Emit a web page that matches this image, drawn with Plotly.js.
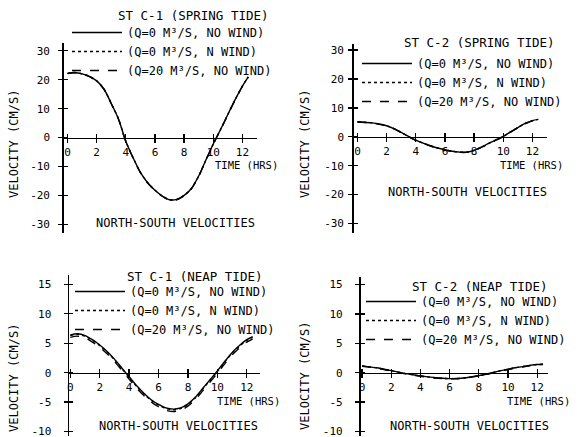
<!DOCTYPE html>
<html>
<head>
<meta charset="utf-8">
<script src="https://cdn.plot.ly/plotly-3.0.1.min.js"></script>
<style>html,body{margin:0;padding:0;background:#fff}#chart{width:579px;height:437px}</style>
</head>
<body>
<div id="chart"></div>
<script>
// ---------------- DATA ----------------
const timeHrs = [0,0.5,1,1.5,2,2.5,3,3.5,4,4.5,5,5.5,6,6.5,7,7.5,8,8.5,9,9.5,10,10.5,11,11.5,12,12.4];

// ST C-1 spring tide (cm/s)
const springC1_q0    = [22.2,22.5,22.0,21.2,19.6,16.8,11.8,6.4,-1.3,-7.0,-12.0,-15.6,-18.2,-20.2,-21.5,-21.4,-20.0,-17.6,-13.3,-7.7,-2.2,2.8,8.0,13.1,17.8,21.0];
const springC1_nWind = [22.2,22.5,22.0,21.2,19.6,16.8,11.8,6.4,-1.3,-7.0,-12.0,-15.6,-18.2,-20.2,-21.5,-21.4,-20.0,-17.6,-13.3,-7.7,-2.2,2.8,8.0,13.1,17.8,21.0];
const springC1_q20   = [22.1,22.4,21.9,21.1,19.5,16.7,11.7,6.3,-1.4,-7.1,-12.1,-15.7,-18.3,-20.3,-21.6,-21.5,-20.1,-17.7,-13.4,-7.8,-2.3,2.7,7.9,13.0,17.7,20.9];

// ST C-2 spring tide (cm/s)
const springC2_q0    = [5.2,5.0,4.8,4.4,3.8,2.8,1.5,0.1,-1.2,-2.2,-3.1,-3.9,-4.5,-5.0,-5.3,-5.3,-4.7,-3.6,-2.3,-1.1,0.1,1.7,3.2,4.6,5.6,6.0];
const springC2_nWind = [5.2,5.0,4.8,4.4,3.8,2.8,1.5,0.1,-1.2,-2.2,-3.1,-3.9,-4.5,-5.0,-5.3,-5.3,-4.7,-3.6,-2.3,-1.1,0.1,1.7,3.2,4.6,5.6,6.0];
const springC2_q20   = [5.1,4.9,4.7,4.3,3.7,2.7,1.4,0.0,-1.3,-2.3,-3.2,-4.0,-4.6,-5.1,-5.4,-5.4,-4.8,-3.7,-2.4,-1.2,0.0,1.6,3.1,4.5,5.5,5.9];

// ST C-1 neap tide (cm/s)
const neapC1_q0    = [6.4,6.6,6.3,5.6,4.7,3.6,2.3,0.8,-0.7,-2.2,-3.5,-4.6,-5.4,-6.0,-6.2,-6.0,-5.3,-4.2,-2.7,-1.2,0.3,1.9,3.4,4.6,5.6,6.1];
const neapC1_nWind = [6.3,6.5,6.2,5.5,4.6,3.5,2.2,0.7,-0.8,-2.3,-3.6,-4.7,-5.5,-6.1,-6.3,-6.1,-5.4,-4.3,-2.8,-1.3,0.2,1.8,3.3,4.5,5.5,6.0];
const neapC1_q20   = [6.0,6.2,5.9,5.2,4.3,3.2,1.9,0.4,-1.1,-2.6,-3.9,-5.0,-5.8,-6.4,-6.6,-6.4,-5.7,-4.6,-3.1,-1.6,-0.1,1.5,3.0,4.2,5.2,5.7];

// ST C-2 neap tide (cm/s)
const neapC2_q0    = [1.15,1.0,0.85,0.6,0.35,0.1,-0.15,-0.35,-0.55,-0.7,-0.85,-0.95,-1.0,-0.98,-0.9,-0.7,-0.5,-0.25,0.05,0.35,0.6,0.85,1.05,1.25,1.4,1.45];
const neapC2_nWind = [1.15,1.0,0.85,0.6,0.35,0.1,-0.15,-0.35,-0.55,-0.7,-0.85,-0.95,-1.0,-0.98,-0.9,-0.7,-0.5,-0.25,0.05,0.35,0.6,0.85,1.05,1.25,1.4,1.45];
const neapC2_q20   = [1.1,0.95,0.8,0.55,0.3,0.05,-0.2,-0.4,-0.6,-0.75,-0.9,-1.0,-1.05,-1.03,-0.95,-0.75,-0.55,-0.3,0.0,0.3,0.55,0.8,1.0,1.2,1.35,1.4];

const seriesNames = ['(Q=0 M³/S, NO WIND)', '(Q=0 M³/S, N WIND)', '(Q=20 M³/S, NO WIND)'];
const panelTitles = ['ST C-1 (SPRING TIDE)', 'ST C-2 (SPRING TIDE)', 'ST C-1 (NEAP TIDE)', 'ST C-2 (NEAP TIDE)'];
const timeTicks = [0,2,4,6,8,10,12];
const timeTickText = ['0','2','4','6','8','10','12'];
const springVelTicks = [-30,-20,-10,0,10,20,30];
const springVelTickText = ['-30','-20','-10','0','10','20','30'];
const neapVelTicks = [-10,-5,0,5,10,15];
const neapVelTickText = ['-10','-5','0','5','10','15'];
const xTitle = 'TIME (HRS)';
const yTitle = 'VELOCITY (CM/S)';
const subTitle = 'NORTH-SOUTH VELOCITIES';

// ---------------- LAYOUT ----------------
const W = 579, H = 437;
const px = v => v / W;
const py = v => 1 - v / H;
const FONT = '"DejaVu Sans Mono", monospace';
const dashes = ['solid', 'dot', 'dash'];

const panels = [
  {series:[springC1_q0,springC1_nWind,springC1_q20], yt:springVelTicks, ytt:springVelTickText,
   xdom:[64,257], ydom:[43,233], xr:[-0.24,13.0], yr:[-33.0,32.7], leg:[67,18], ttl:[193,15], tm:[246,165], ns:[175,223], vel:[14,144], so:6},
  {series:[springC2_q0,springC2_nWind,springC2_q20], yt:springVelTicks, ytt:springVelTickText,
   xdom:[354,547], ydom:[44,233], xr:[-0.24,13.0], yr:[-33.3,32.1], leg:[357,49], ttl:[480,42], tm:[531,165], ns:[467,192], vel:[305,144], so:2},
  {series:[neapC1_q0,neapC1_nWind,neapC1_q20], yt:neapVelTicks, ytt:neapVelTickText,
   xdom:[69.3,260], ydom:[275,436], xr:[-0.07,12.9], yr:[-10.77,16.6], leg:[70,277], ttl:[195,276], tm:[248,401], ns:[178,426], vel:[14,378], so:10},
  {series:[neapC2_q0,neapC2_nWind,neapC2_q20], yt:neapVelTicks, ytt:neapVelTickText,
   xdom:[360.7,548], ydom:[277,436], xr:[-0.09,12.74], yr:[-10.77,16.3], leg:[361,287], ttl:[479,286], tm:[538,401], ns:[469,426], vel:[305,376], so:10}
];

const traces = [];
const layout = {
  width: W, height: H,
  margin: {l:0, r:0, t:0, b:0},
  paper_bgcolor: '#fff', plot_bgcolor: 'rgba(0,0,0,0)',
  font: {family: FONT, size: 11, color: '#000'},
  showlegend: true,
  annotations: []
};

panels.forEach((p, i) => {
  const n = i + 1;
  const xa = n === 1 ? 'x' : 'x' + n;
  const ya = n === 1 ? 'y' : 'y' + n;
  const xo = 'x' + (n + 4), yo = 'y' + (n + 4);
  const legKey = n === 1 ? 'legend' : 'legend' + n;
  const xdom = [px(p.xdom[0]), px(p.xdom[1])];
  const ydom = [py(p.ydom[1]), py(p.ydom[0])];
  const zeroPos = ydom[0] + (ydom[1] - ydom[0]) * (0 - p.yr[0]) / (p.yr[1] - p.yr[0]);

  p.series.forEach((vals, k) => {
    traces.push({
      type: 'scatter', mode: 'lines', x: timeHrs, y: vals,
      xaxis: xa, yaxis: ya, name: seriesNames[k], legend: legKey,
      line: {color: '#000', width: 1.4, dash: dashes[k], shape: 'spline', smoothing: 0.8},
      hoverinfo: 'skip'
    });
  });
  // empty trace to create the overlay subplot that draws the upper/right half of the crossing ticks
  traces.push({type:'scatter', x:[], y:[], xaxis: xo, yaxis: yo, showlegend:false, hoverinfo:'skip'});

  const common = {showgrid:false, zeroline:false, fixedrange:true, tickcolor:'#000', tickwidth:1.3, ticklen:4};
  layout['xaxis' + (n === 1 ? '' : n)] = Object.assign({}, common, {
    domain: xdom, range: p.xr, anchor: 'free', position: zeroPos,
    showline: true, linecolor: '#000', linewidth: 1.5, ticks: 'outside',
    tickmode: 'array', tickvals: timeTicks, ticktext: timeTickText,
    ticklabeloverflow: 'allow',
    tickfont: {family: FONT, size: 11}
  });
  layout['yaxis' + (n === 1 ? '' : n)] = Object.assign({}, common, {
    domain: ydom, range: p.yr, anchor: xa,
    showline: true, linecolor: '#000', linewidth: 1.8, ticks: 'outside',
    tickmode: 'array', tickvals: p.yt, ticktext: p.ytt, ticklabelstandoff: p.so,
    ticklabeloverflow: 'allow',
    tickfont: {family: FONT, size: 11}
  });
  layout['xaxis' + (n + 4)] = Object.assign({}, common, {
    overlaying: xa, range: p.xr, anchor: 'free', position: zeroPos,
    showline: false, ticks: 'inside', tickmode: 'array', tickvals: timeTicks, showticklabels: false
  });
  layout['yaxis' + (n + 4)] = Object.assign({}, common, {
    overlaying: ya, range: p.yr, anchor: xa, side: 'left',
    showline: false, ticks: 'inside', tickmode: 'array', tickvals: p.yt, showticklabels: false
  });

  layout[legKey] = {
    x: px(p.leg[0]), y: py(p.leg[1]), xanchor: 'left', yanchor: 'top',
    bgcolor: 'rgba(0,0,0,0)', borderwidth: 0, itemwidth: 50,
    font: {family: FONT, size: 12, color: '#000'}, itemclick: false, itemdoubleclick: false
  };

  const ann = (text, xy, opts) => Object.assign({
    text: text, xref: 'paper', yref: 'paper', x: px(xy[0]), y: py(xy[1]),
    xanchor: 'center', yanchor: 'middle', showarrow: false,
    font: {family: FONT, size: 12, color: '#000'}
  }, opts || {});
  layout.annotations.push(ann(panelTitles[i], p.ttl, {font: {family: FONT, size: 12.5, color: '#000'}}));
  layout.annotations.push(ann(xTitle, p.tm, {font: {family: FONT, size: 10.5, color: '#000'}}));
  layout.annotations.push(ann(subTitle, p.ns));
  layout.annotations.push(ann(yTitle, p.vel, {textangle: -90}));
});

Plotly.newPlot('chart', traces, layout, {staticPlot: true, displayModeBar: false});
</script>
</body>
</html>
